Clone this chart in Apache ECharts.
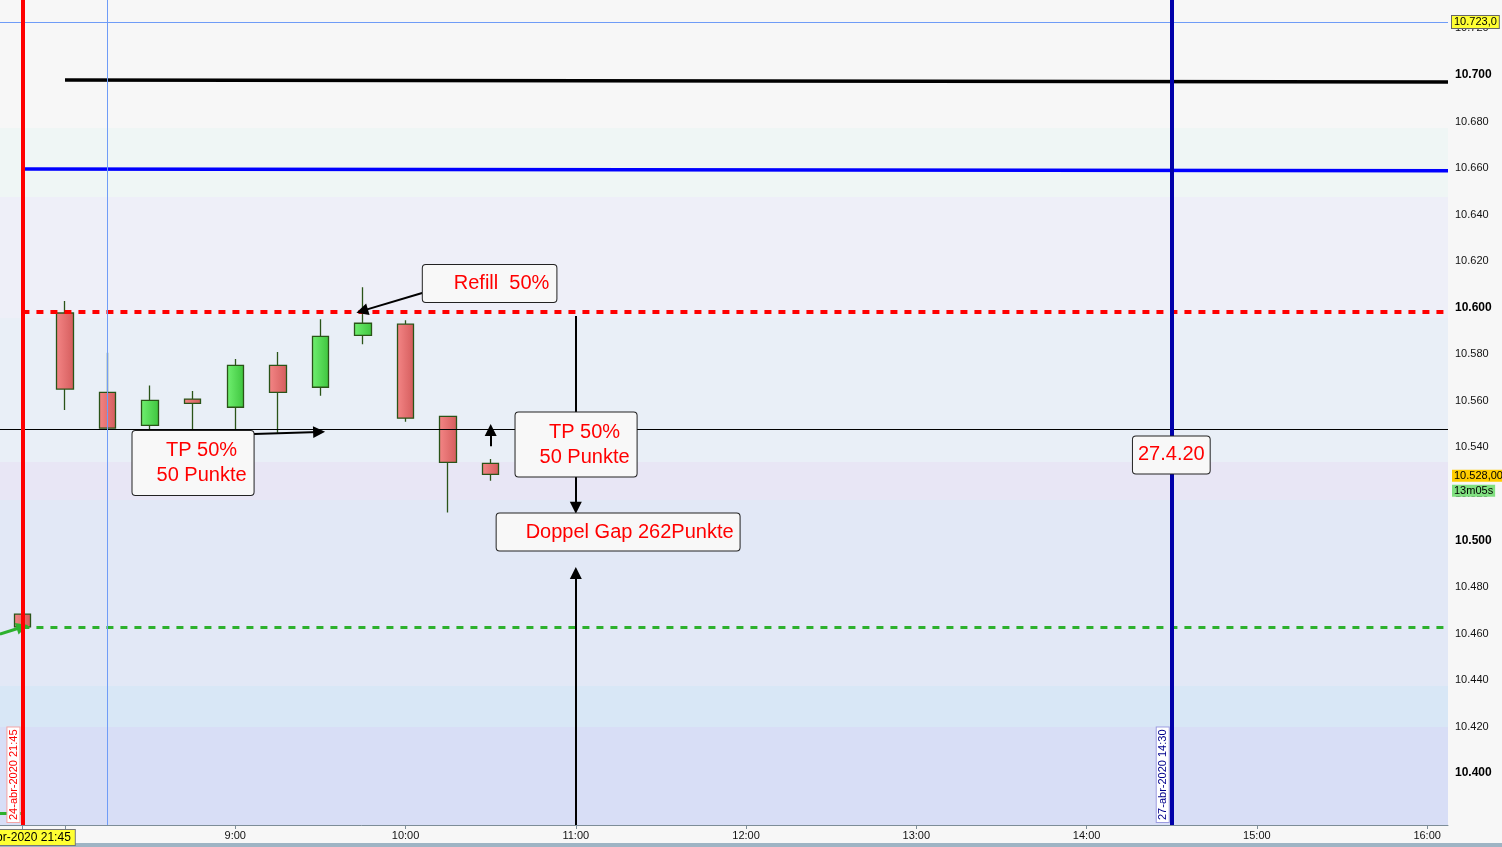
<!DOCTYPE html>
<html lang="de">
<head>
<meta charset="UTF-8">
<title>Chart</title>
<style>
  html, body { margin: 0; padding: 0; background: #f7f7f7; }
  #chart { width: 1502px; height: 847px; }
</style>
</head>
<body>
<div id="chart"></div>
<script src="https://cdn.jsdelivr.net/npm/echarts@6/dist/echarts.min.js"></script>
<script>
// slot 0 = 24-abr-2020 21:45, slot 1 = 27-abr 8:00, then one slot every 15 min
const slots  = [0, 1, 2, 3, 4, 5, 6, 7, 8, 9, 10, 11];
const opens  = [10.4683, 10.5977, 10.5636, 10.5494, 10.5607, 10.5572, 10.5752, 10.5658, 10.5881, 10.5929, 10.5533, 10.5331];
const closes = [10.4628, 10.5650, 10.5482, 10.5602, 10.5589, 10.5752, 10.5636, 10.5877, 10.5933, 10.5525, 10.5335, 10.5284];
const lows   = [10.4628, 10.5560, 10.5482, 10.5466, 10.5466, 10.5474, 10.5463, 10.5622, 10.5843, 10.5510, 10.5120, 10.5256];
const highs  = [10.4683, 10.6029, 10.5806, 10.5666, 10.5642, 10.5779, 10.5810, 10.5950, 10.6088, 10.5946, 10.5533, 10.5350];

const xTickSlots  = [0, 1, 5, 9, 13, 17, 21, 25, 29, 33];
const xLabelSlots = [0, 5, 9, 13, 17, 21, 25, 29, 33];
const xLabels     = ['24-abr-2020 21:45', '9:00', '10:00', '11:00', '12:00', '13:00', '14:00', '15:00', '16:00'];
const yLabelVals  = [10.40, 10.42, 10.44, 10.46, 10.48, 10.50, 10.52, 10.54, 10.56, 10.58, 10.60, 10.62, 10.64, 10.66, 10.68, 10.70, 10.72];
const yTickVals   = [10.38, 10.39, 10.40, 10.41, 10.42, 10.43, 10.44, 10.45, 10.46, 10.47, 10.48, 10.49, 10.50, 10.51, 10.52,
                     10.53, 10.54, 10.55, 10.56, 10.57, 10.58, 10.59, 10.60, 10.61, 10.62, 10.63, 10.64, 10.65, 10.66, 10.67,
                     10.68, 10.69, 10.70, 10.71, 10.72, 10.73];

// price levels drawn on the chart
const blackLevel = [10.6978, 10.6970];
const blueLevel  = [10.6596, 10.6588];
const refillLevel = 10.5981;
const gapLevel    = 10.4628;
const tpLevel     = 10.5479;
const askLevel    = 10.7228;
const lastPrice   = 10.528;

const xMin = -0.527, xMax = 33.49;
const yMin = 10.3777, yMax = 10.7322;

// background bands (price edges, top to bottom)
const bandEdges  = [10.7322, 10.6772, 10.6476, 10.5956, 10.5337, 10.5173, 10.4374, 10.4198, 10.3777];
const bandColors = ['#f7f7f7', '#eff6f5', '#eeeff8', '#e9eff7', '#e8e6f5', '#e2e8f6', '#d8e7f6', '#d8def6'];

const FONT = "'Liberation Sans', Arial, sans-serif";

const chart = echarts.init(document.getElementById('chart'));

const candleData = slots.map((s, i) => [s, opens[i], closes[i], lows[i], highs[i]]);

const bandData = bandColors.map((c, i) => [
  { yAxis: bandEdges[i], itemStyle: { color: c } },
  { yAxis: bandEdges[i + 1] }
]);

function seg(a, b, style, arrow) {
  return [
    { coord: a, lineStyle: style, symbol: 'none' },
    { coord: b, symbol: arrow ? 'triangle' : 'none', symbolSize: arrow ? [12, 12] : 0 }
  ];
}
const arrowStyle = { color: '#000', width: 2, type: 'solid' };

function vLabel(text, color, border) {
  return {
    show: true, position: 'insideStartTop', formatter: text, distance: [3, 3],
    color: color, fontSize: 11, fontFamily: FONT,
    backgroundColor: '#ffffff', borderColor: border, borderWidth: 1, padding: [1, 2, 0, 2]
  };
}

const lineData = [
  seg([1, blackLevel[0]], [xMax, blackLevel[1]], { color: '#000', width: 3.5, type: 'solid' }),
  seg([0, blueLevel[0]], [xMax, blueLevel[1]], { color: '#0000ff', width: 3.5, type: 'solid' }),
  seg([0, refillLevel], [xMax, refillLevel], { color: '#ff0000', width: 4, type: [7, 7] }),
  seg([0, gapLevel], [xMax, gapLevel], { color: '#2db12d', width: 3, type: [7, 7] }),
  seg([xMin, 10.3828], [0, 10.3828], { color: '#2db12d', width: 3, type: [7, 7] }),
  seg([xMin, 10.4597], [0, 10.4628], { color: '#2db12d', width: 3, type: 'solid' }, true),
  { yAxis: tpLevel, lineStyle: { color: '#000', width: 1, type: 'solid' } },
  {
    yAxis: askLevel, lineStyle: { color: '#6f9cf7', width: 1, type: 'solid' },
    label: {
      show: true, position: 'end', distance: 4, formatter: '10.723,0',
      color: '#000', fontSize: 11, fontFamily: FONT,
      backgroundColor: '#ffff33', borderColor: '#666', borderWidth: 1, padding: [1, 2, 0, 2]
    }
  },
  {
    yAxis: lastPrice, lineStyle: { color: 'rgba(0,0,0,0)', width: 1 },
    label: {
      show: true, position: 'end', distance: 4, offset: [0, 8],
      formatter: '{p|10.528,00}\n{t|13m05s}',
      fontFamily: FONT,
      rich: {
        p: { color: '#000', fontSize: 11, backgroundColor: '#ffcc00', padding: [1, 2, 0, 2], lineHeight: 15 },
        t: { color: '#000', fontSize: 11, backgroundColor: '#80e080', padding: [1, 2, 0, 2], lineHeight: 15 }
      }
    }
  },
  { xAxis: 0, lineStyle: { color: '#ff0000', width: 4, type: 'solid' }, label: vLabel('24-abr-2020 21:45', '#ff0000', '#f4a4a4') },
  { xAxis: 2, lineStyle: { color: '#6f9cf7', width: 1, type: 'solid' } },
  { xAxis: 27, lineStyle: { color: '#0000aa', width: 4, type: 'solid' }, label: vLabel('27-abr-2020 14:30', '#00008b', '#9c9ce0') },
  // annotation arrows
  seg([9.39, 10.6063], [7.98, 10.5986], arrowStyle, true),
  seg([5.44, 10.5457], [6.97, 10.5466], arrowStyle, true),
  seg([11, 10.5405], [11, 10.5474], arrowStyle, true),
  seg([13, 10.5964], [13, 10.5450], arrowStyle),
  seg([13, 10.5277], [13, 10.5140], arrowStyle, true),
  seg([13, yMin], [13, 10.4860], arrowStyle, true)
];

const boxLabel = {
  show: true, position: 'inside', color: '#ff0000', fontSize: 20, fontFamily: FONT, lineHeight: 25,
  align: 'center', backgroundColor: '#f8f8f8', borderColor: '#222', borderWidth: 1, borderRadius: 3
};
const boxData = [
  { coord: [10.975, 10.6104], label: { formatter: 'Refill  50%', padding: [6, 7, 6, 31] } },
  { coord: [4.008, 10.5332], label: { formatter: 'TP 50%\n50 Punkte', padding: [7, 7, 7, 24] } },
  { coord: [13.006, 10.5412], label: { formatter: 'TP 50%\n50 Punkte', padding: [7, 7, 7, 24] } },
  { coord: [13.994, 10.5036], label: { formatter: 'Doppel Gap 262Punkte', padding: [6, 6, 6, 29] } },
  { coord: [26.99, 10.5367], label: { formatter: '27.4.20', padding: [6, 5, 6, 5] } }
];

function hGrad(a, b) {
  return new echarts.graphic.LinearGradient(0, 0, 1, 0, [{ offset: 0, color: a }, { offset: 1, color: b }]);
}

chart.setOption({
  animation: false,
  backgroundColor: '#f7f7f7',
  textStyle: { fontFamily: FONT },
  grid: { left: 0, right: 54, top: 0, bottom: 22, outerBoundsMode: 'none', containLabel: false },
  xAxis: {
    type: 'value', min: xMin, max: xMax,
    splitLine: { show: false },
    axisLine: { lineStyle: { color: '#7d8d98' } },
    axisTick: { customValues: xTickSlots, length: 4, lineStyle: { color: '#7d8d98' } },
    axisLabel: {
      customValues: xLabelSlots, margin: 5, color: '#111', fontSize: 11,
      formatter: v => {
        const i = xLabelSlots.indexOf(Math.round(v));
        const t = i >= 0 ? xLabels[i] : '';
        return i === 0 ? '{d|' + t + '}' : t;
      },
      rich: { d: { backgroundColor: '#ffff33', borderColor: '#777', borderWidth: 1, padding: [2, 4, 1, 2], fontSize: 12, color: '#000' } }
    }
  },
  yAxis: {
    type: 'value', position: 'right', min: yMin, max: yMax, scale: true,
    splitLine: { show: false },
    axisLine: { show: true, lineStyle: { color: '#7d8d98' } },
    axisTick: { show: true, customValues: yTickVals, length: 5, lineStyle: { color: '#7d8d98' } },
    axisLabel: {
      customValues: yLabelVals, margin: 7, color: '#111', fontSize: 11,
      formatter: v => {
        const s = v.toFixed(3);
        return Math.abs(v * 10 - Math.round(v * 10)) < 1e-6 ? '{b|' + s + '}' : s;
      },
      rich: { b: { fontWeight: 'bold', fontSize: 12, color: '#000' } }
    }
  },
  series: [
    {
      type: 'line', data: [], z: 1, clip: false, silent: true,
      markArea: { silent: true, data: bandData }
    },
    {
      type: 'candlestick', z: 3, barWidth: 17,
      encode: { x: 0, y: [1, 2, 3, 4] },
      data: candleData,
      itemStyle: {
        color: hGrad('#70f070', '#3ec43e'),
        color0: hGrad('#f48686', '#d45c5c'),
        borderColor: '#2a5418', borderColor0: '#2a5418', borderWidth: 1.3
      }
    },
    {
      type: 'line', data: [], z: 5, clip: false, silent: true,
      markLine: { silent: true, precision: 5, symbol: ['none', 'none'], label: { show: false }, data: lineData }
    },
    {
      type: 'scatter', data: [], z: 10, silent: true,
      markPoint: {
        silent: true, symbol: 'circle', symbolSize: 1, itemStyle: { color: 'rgba(0,0,0,0)' },
        label: boxLabel, data: boxData
      }
    }
  ],
  graphic: [
    { type: 'rect', left: 0, bottom: 0, shape: { width: 1502, height: 4 }, style: { fill: '#9eb4c4' } }
  ]
});
</script>
</body>
</html>
